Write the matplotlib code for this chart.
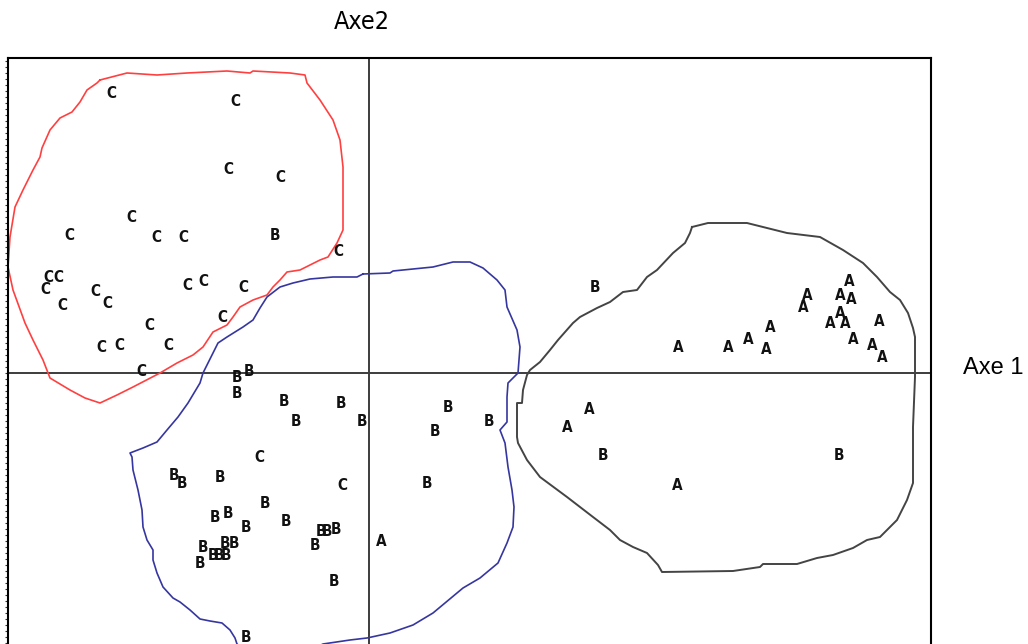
import numpy as np
import matplotlib
matplotlib.use("Agg")
import matplotlib.pyplot as plt

# ---------------- data (scores on the two axes) ----------------
c_x = [-2.58, -1.34, -1.41, -0.89, -2.38, -3.00, -2.13, -1.86, -0.31, -3.21, -3.11, -3.24,
       -3.07, -2.74, -2.62, -1.82, -1.66, -1.26, -2.20, -1.47, -2.68, -2.50, -2.01, -2.28,
       -1.10, -0.27]
c_y = [2.80, 2.71, 2.04, 1.96, 1.56, 1.37, 1.36, 1.36, 1.22, 0.96, 0.95, 0.83,
       0.68, 0.82, 0.69, 0.87, 0.92, 0.85, 0.47, 0.55, 0.25, 0.28, 0.27, 0.01,
       -0.84, -1.13]

b_x = [-0.94, -1.32, -1.20, -1.32, -0.85, -0.73, -0.28, -0.07, 0.79, 0.66, 1.20, -1.95,
       -1.87, -1.49, 0.58, -1.04, -1.54, -1.41, -1.23, -0.83, -0.48, -0.42, -0.33, -0.54,
       -1.66, -1.44, -1.35, -1.56, -1.50, -1.43, -1.69, -0.35, -1.23, 2.26, 2.34, 4.70]
b_y = [1.37, -0.05, 0.02, -0.21, -0.28, -0.49, -0.31, -0.49, -0.35, -0.58, -0.49, -1.03,
       -1.11, -1.05, -1.10, -1.30, -1.44, -1.40, -1.55, -1.49, -1.58, -1.59, -1.56, -1.72,
       -1.74, -1.70, -1.70, -1.83, -1.83, -1.83, -1.90, -2.09, -2.64, 0.86, -0.82, -0.83]

a_x = [4.80, 4.38, 4.71, 4.82, 4.34, 4.71, 4.61, 4.76, 5.10, 4.01, 3.79, 4.84,
       3.09, 3.59, 3.97, 5.03, 5.13, 2.20, 1.98, 3.08, 0.12]
a_y = [0.92, 0.77, 0.77, 0.74, 0.65, 0.60, 0.50, 0.49, 0.52, 0.45, 0.34, 0.34,
       0.26, 0.26, 0.24, 0.27, 0.15, -0.36, -0.55, -1.12, -1.69]

# hand-drawn group contours
red_x = [-2.69, -2.42, -2.12, -1.82, -1.42, -1.19, -1.16, -0.79, -0.64, -0.62, -0.49, -0.36,
         -0.29, -0.26, -0.26, -0.32, -0.41, -0.49, -0.69, -0.82, -0.89, -0.96, -1.02, -1.16,
         -1.29, -1.36, -1.42, -1.56, -1.66, -1.76, -1.92, -2.09, -2.36, -2.52, -2.69, -2.84,
         -2.99, -3.19, -3.26, -3.36, -3.44, -3.56, -3.61, -3.59, -3.54, -3.46, -3.36, -3.29,
         -3.27, -3.19, -3.09, -2.97, -2.89, -2.82, -2.72, -2.69]
red_y = [2.93, 3.00, 2.98, 3.00, 3.02, 3.00, 3.02, 3.00, 2.98, 2.90, 2.73, 2.53,
         2.33, 2.06, 1.43, 1.30, 1.16, 1.13, 1.03, 1.01, 0.93, 0.86, 0.78, 0.73,
         0.66, 0.56, 0.48, 0.41, 0.26, 0.18, 0.10, 0.00, -0.14, -0.22, -0.30, -0.25,
         -0.17, -0.05, 0.13, 0.33, 0.50, 0.83, 1.06, 1.36, 1.66, 1.83, 2.03, 2.16,
         2.25, 2.43, 2.55, 2.61, 2.71, 2.83, 2.90, 2.93]

blue_x = [-0.06, 0.21, 0.24, 0.64, 0.84, 1.01, 1.14, 1.28, 1.36, 1.38, 1.48, 1.51, 1.49,
          1.39, 1.38, 1.38, 1.31, 1.36, 1.39, 1.43, 1.45, 1.44, 1.38, 1.29, 1.11, 0.94,
          0.64, 0.44, 0.21, -0.02, -0.19, -0.46, -0.69, -1.19, -1.32, -1.34, -1.39, -1.47,
          -1.59, -1.69, -1.79, -1.89, -1.96, -2.06, -2.12, -2.16, -2.16, -2.22, -2.26, -2.27,
          -2.31, -2.36, -2.37, -2.39, -2.26, -2.12, -2.02, -1.91, -1.81, -1.69, -1.66, -1.61,
          -1.51, -1.42, -1.26, -1.16, -1.09, -1.02, -0.89, -0.76, -0.59, -0.36, -0.12, -0.06]
blue_y = [0.99, 1.00, 1.02, 1.06, 1.11, 1.11, 1.05, 0.93, 0.83, 0.66, 0.43, 0.26, 0.00,
          -0.10, -0.24, -0.49, -0.57, -0.70, -0.94, -1.17, -1.34, -1.54, -1.70, -1.90, -2.05, -2.15,
          -2.40, -2.52, -2.60, -2.65, -2.67, -2.71, -2.82, -2.82, -2.71, -2.65, -2.57, -2.50,
          -2.48, -2.46, -2.37, -2.29, -2.25, -2.14, -2.00, -1.87, -1.77, -1.67, -1.54, -1.37,
          -1.17, -0.97, -0.84, -0.80, -0.75, -0.69, -0.57, -0.44, -0.30, -0.10, 0.00, 0.10,
          0.30, 0.36, 0.46, 0.53, 0.65, 0.76, 0.86, 0.90, 0.94, 0.96, 0.96, 0.99]

gray_x = [3.23, 3.39, 3.78, 4.14, 4.18, 4.51, 4.74, 4.94, 5.08, 5.21, 5.31, 5.39, 5.44,
          5.46, 5.46, 5.44, 5.44, 5.38, 5.28, 5.11, 4.98, 4.84, 4.64, 4.48, 4.28, 3.94,
          3.91, 3.64, 2.93, 2.89, 2.78, 2.64, 2.51, 2.41, 2.24, 1.98, 1.71, 1.58, 1.49,
          1.48, 1.48, 1.53, 1.54, 1.58, 1.61, 1.71, 1.81, 1.89, 2.04, 2.11, 2.28, 2.41,
          2.54, 2.68, 2.78, 2.88, 3.04, 3.16, 3.21, 3.23]
gray_y = [1.46, 1.50, 1.50, 1.41, 1.40, 1.36, 1.23, 1.10, 0.96, 0.81, 0.73, 0.60, 0.45,
          0.36, -0.04, -0.54, -1.10, -1.27, -1.47, -1.64, -1.67, -1.75, -1.82, -1.85, -1.91, -1.91,
          -1.94, -1.98, -1.99, -1.92, -1.80, -1.74, -1.67, -1.57, -1.44, -1.24, -1.04, -0.87, -0.70,
          -0.64, -0.30, -0.30, -0.17, -0.02, 0.03, 0.11, 0.23, 0.33, 0.50, 0.56, 0.65, 0.71,
          0.81, 0.83, 0.96, 1.03, 1.20, 1.30, 1.40, 1.46]

x_range = (-3.61, 5.62)
y_range = (-3.03, 3.15)

# ---------------- figure ----------------
fig = plt.figure(figsize=(10.28, 6.44), dpi=100)
ax = fig.add_axes([8 / 1028, -32 / 644, 923 / 1028, 618 / 644])
ax.set_xlim(*x_range)
ax.set_ylim(*y_range)

for s in ax.spines.values():
    s.set_linewidth(1.5)
    s.set_color("black")

ax.set_xticks([])
ax.set_yticks(np.arange(-3.0, 3.15, 0.06))
ax.tick_params(axis="y", direction="out", length=2, width=0.8, labelleft=False, color="#333333")

ax.axhline(0, color="#3c3c3c", lw=1.4, zorder=1)
ax.axvline(0, color="#3c3c3c", lw=1.4, zorder=1)

ax.plot(red_x, red_y, color="#ff4040", lw=1.2, zorder=2)
ax.plot(blue_x, blue_y, color="#3636a0", lw=1.2, zorder=2)
ax.plot(gray_x, gray_y, color="#444444", lw=1.4, zorder=2)

for xs, ys, lab in ((c_x, c_y, "C"), (b_x, b_y, "B"), (a_x, a_y, "A")):
    for x, y in zip(xs, ys):
        ax.text(x, y, lab, ha="center", va="center", fontsize=11,
                fontweight="bold", fontstretch="condensed", color="#111111",
                family="DejaVu Sans", zorder=3)

fig.text(362 / 1028, 1 - 22 / 644, "Axe2", ha="center", va="center", fontsize=18,
         fontstretch="condensed", family="DejaVu Sans")
fig.text(993 / 1028, 1 - 368 / 644, "Axe 1", ha="center", va="center", fontsize=17,
         family=["Liberation Sans", "DejaVu Sans"])

fig.savefig("out.png", dpi=100)
